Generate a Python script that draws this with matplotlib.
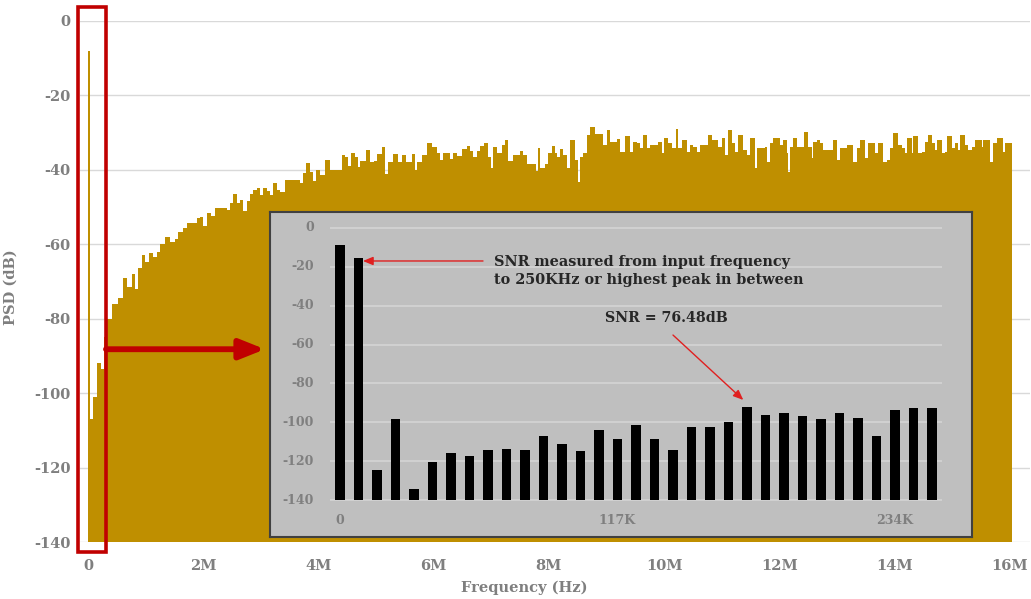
import matplotlib.pyplot as plt
from matplotlib.patches import Rectangle

plt.rcParams['font.family'] = ['DejaVu Serif', 'DejaVu Sans']
plt.rcParams['font.weight'] = 'bold'
plt.rcParams['axes.unicode_minus'] = False

# PSD envelope of the full spectrum (frequency in MHz, level in dB, step start points)
freq_mhz = [0.00, 0.035, 0.08, 0.15, 0.22, 0.27,
            0.33, 0.42, 0.52, 0.61, 0.68, 0.76, 0.82, 0.87, 0.94, 0.99,
            1.06, 1.13, 1.20, 1.25, 1.34, 1.42, 1.51, 1.56, 1.65, 1.72,
            1.89, 1.94, 2.00, 2.07, 2.14, 2.20, 2.41, 2.47, 2.52, 2.59,
            2.64, 2.69, 2.76, 2.81, 2.86, 2.93, 2.99, 3.04, 3.11, 3.16,
            3.21, 3.28, 3.33, 3.42, 3.68, 3.73, 3.78, 3.85, 3.91, 3.96,
            4.03, 4.11, 4.20, 4.41, 4.46, 4.51, 4.57, 4.64, 4.69, 4.72,
            4.83, 4.90, 4.97, 5.02, 5.10, 5.16, 5.21, 5.30, 5.38, 5.45,
            5.52, 5.63, 5.68, 5.71, 5.80, 5.89, 5.97, 6.06, 6.11, 6.16,
            6.28, 6.34, 6.41, 6.49, 6.58, 6.63, 6.68, 6.75, 6.81, 6.88,
            6.94, 7.00, 7.03, 7.10, 7.19, 7.24, 7.29, 7.38, 7.50, 7.55,
            7.62, 7.78, 7.81, 7.85, 7.93, 7.99, 8.06, 8.11, 8.14, 8.19,
            8.25, 8.32, 8.37, 8.45, 8.51, 8.54, 8.59, 8.66, 8.72, 8.80,
            8.94, 9.01, 9.06, 9.18, 9.24, 9.32, 9.41, 9.46, 9.53, 9.58,
            9.64, 9.70, 9.76, 9.90, 9.97, 10.00, 10.07, 10.14, 10.21, 10.24,
            10.31, 10.40, 10.45, 10.50, 10.57, 10.62, 10.76, 10.83, 10.94, 11.01,
            11.06, 11.11, 11.18, 11.23, 11.28, 11.37, 11.44, 11.49, 11.58, 11.61,
            11.75, 11.79, 11.84, 11.89, 12.01, 12.07, 12.14, 12.15, 12.19, 12.24,
            12.31, 12.43, 12.50, 12.57, 12.59, 12.66, 12.71, 12.76, 12.93, 13.00,
            13.06, 13.18, 13.28, 13.35, 13.40, 13.49, 13.54, 13.66, 13.72, 13.80,
            13.87, 13.92, 13.98, 14.06, 14.13, 14.18, 14.22, 14.31, 14.32, 14.41,
            14.48, 14.53, 14.58, 14.65, 14.70, 14.74, 14.83, 14.88, 14.91, 15.00,
            15.05, 15.10, 15.14, 15.23, 15.28, 15.35, 15.40, 15.52, 15.54, 15.66,
            15.71, 15.78, 15.89, 15.92, 16.04]
psd_db = [-8, -107, -101, -92, -93.5, -85,
          -80, -76, -74.5, -69, -71.5, -68, -72, -66.4, -63, -64.8,
          -62.4, -63.5, -62, -60, -58, -59.5, -58.5, -56.7, -55.6, -54.3,
          -53, -52.6, -55, -51.6, -52.5, -50.3, -50.7, -49, -46.5, -49,
          -48, -51, -48.5, -46.5, -45.4, -45, -46.8, -45, -45.8, -46.8,
          -43.5, -45.4, -46, -42.7, -43.6, -40.9, -38.2, -40.6, -43, -40,
          -41.4, -37.4, -40, -36, -36.5, -39, -35.5, -36.5, -39.3, -37.7,
          -34.7, -37.8, -37.5, -35.8, -33.9, -41, -38, -35.8, -38, -36,
          -38, -35.8, -40, -38, -36, -32.9, -33.9, -35.5, -37.3, -35.5,
          -37, -35.5, -36.4, -34.3, -33.5, -35, -36.6, -35, -33.5, -32.9,
          -36.6, -39.6, -33.8, -35.5, -33.2, -32, -37.6, -36, -34.9, -36,
          -38.4, -40.3, -34, -39.6, -38.4, -35.6, -33.5, -35.6, -36.6, -34.5,
          -36, -39.6, -32, -37.4, -43.3, -36.5, -35.6, -30.6, -28.5, -30.4,
          -33.2, -29.4, -32.4, -31.6, -35.2, -31, -35.2, -32.5, -32.9, -34.2,
          -30.6, -34.2, -33.3, -32.4, -35.6, -31.5, -32.9, -34.2, -28.9, -34.2,
          -32, -35.1, -33.3, -33.8, -35.1, -33.3, -30.6, -32, -33.8, -31.5,
          -36, -29.3, -32.9, -35.1, -30.6, -34.7, -36, -31.5, -39.6, -34.2,
          -33.8, -37.8, -32.9, -31.5, -33.3, -32, -35.6, -40.5, -33.8, -31.5,
          -33.8, -29.7, -33.8, -36.9, -32.4, -32, -32.9, -34.7, -32, -37.4,
          -34.2, -33.3, -37.8, -34.2, -32, -36.9, -32.9, -35.6, -32.9, -37.8,
          -37.4, -34.2, -30.2, -33.3, -34.2, -35.6, -31.5, -35.6, -31, -35.6,
          -35.1, -32.4, -30.6, -32.9, -34.7, -32, -35.6, -35.1, -31, -34.2,
          -32.9, -34.7, -30.6, -33.3, -34.7, -33.8, -32, -33.8, -32, -37.8,
          -32.9, -31.5, -35.1, -32.9, -34.7]

# zoomed bins from the input tone up to 250 kHz
bin_values = [-8.7, -15.3, -124.5, -98.3, -134.3, -120.3, -116, -117.2, -114.3, -113.7,
              -114.3, -106.9, -111.2, -115, -104, -108.4, -101.4, -108.6, -114.3, -102.2,
              -102.2, -99.8, -92, -96.2, -95, -96.8, -98.3, -95, -97.8, -107,
              -93.7, -92.5, -92.5]
bin_ticks = [0, 15, 30]
bin_tick_labels = ['0', '117K', '234K']

main_xticks = [0, 2, 4, 6, 8, 10, 12, 14, 16]
main_xlabels = ['0', '2M', '4M', '6M', '8M', '10M', '12M', '14M', '16M']
db_ticks = [0, -20, -40, -60, -80, -100, -120, -140]

gold = '#bf8f00'
red = '#c00000'
label_gray = '#7f7f7f'

fig = plt.figure(figsize=(10.31, 5.99), dpi=100)
ax = fig.add_axes([80 / 1031, 1 - 542 / 599, 950 / 1031, 521 / 599])

ax.fill_between(freq_mhz, psd_db, -140, step='post', color=gold, lw=0, zorder=2)

ax.set_xlim(-8 / 57.6, 942 / 57.6)
ax.set_ylim(-140, 0)
ax.set_yticks(db_ticks)
ax.set_xticks(main_xticks)
ax.set_xticklabels(main_xlabels)
ax.yaxis.grid(True, color='#d9d9d9', lw=1, zorder=0)
ax.set_axisbelow(True)
for s in ax.spines.values():
    s.set_visible(False)
ax.tick_params(axis='both', length=0, labelcolor=label_gray, labelsize=10.5)
ax.tick_params(axis='y', pad=7)
ax.tick_params(axis='x', pad=12)
for lab in ax.get_xticklabels() + ax.get_yticklabels():
    lab.set_fontweight('bold')
ax.set_xlabel('Frequency (Hz)', color=label_gray, fontsize=10.5, fontweight='bold')
ax.set_ylabel('PSD (dB)', color=label_gray, fontsize=10.5, fontweight='bold')
ax.xaxis.set_label_coords((524 - 80) / 950, -0.074)
ax.yaxis.set_label_coords((18 - 80) / 950, 0.49)

# red box around the low-frequency region and the pointer to the zoom
ax.add_patch(Rectangle((-10 / 57.6, -142.7), 28 / 57.6, 146.5, fill=False,
                       edgecolor=red, lw=2.6, clip_on=False, zorder=5))
ax.annotate('', xy=(177 / 57.6, -88.2), xytext=(18 / 57.6, -88.2),
            arrowprops=dict(arrowstyle='-|>,head_length=0.75,head_width=0.3',
                            lw=4.2, color=red, mutation_scale=20, shrinkA=0, shrinkB=0),
            zorder=5, annotation_clip=False)

# zoomed view of the first bins
ins = fig.add_axes([270 / 1031, 1 - 537 / 599, 702 / 1031, 325 / 599])
ins.set_facecolor('#bfbfbf')
for s in ins.spines.values():
    s.set_edgecolor('#404040')
    s.set_linewidth(1.5)
ins.set_xlim(-70 / 18.5, 632 / 18.5)
ins.set_ylim(-159, 8.2)
ins.set_xticks([])
ins.set_yticks([])

ins.hlines(db_ticks, -0.54, len(bin_values) - 0.46, color='#d4d4d4', lw=1.2, zorder=1)
ins.bar(range(len(bin_values)), [v + 140 for v in bin_values], bottom=-140,
        width=0.5, color='black', zorder=2)

for t in db_ticks:
    ins.text(-1.4, t, str(t), ha='right', va='center', color=label_gray, fontsize=9)
for t, lab in zip(bin_ticks, bin_tick_labels):
    ins.text(t, -150.3, lab, ha='center', va='center', color=label_gray, fontsize=9)

ins.text(8.3, -22, 'SNR measured from input frequency\nto 250KHz or highest peak in between',
         ha='left', va='center', color='#262626', fontsize=10.4, linespacing=1.4)
ins.annotate('', xy=(1.24, -17), xytext=(7.73, -17),
             arrowprops=dict(arrowstyle='-|>,head_length=0.6,head_width=0.25',
                             lw=1, color='#e02020', shrinkA=0, shrinkB=0))
ins.text(14.3, -46.3, 'SNR = 76.48dB', ha='left', va='center', color='#262626', fontsize=10.2)
ins.annotate('', xy=(21.8, -88.5), xytext=(18.0, -55.1),
             arrowprops=dict(arrowstyle='-|>,head_length=0.6,head_width=0.25',
                             lw=1, color='#e02020', shrinkA=0, shrinkB=0))

fig.savefig('out.png', dpi=100)
